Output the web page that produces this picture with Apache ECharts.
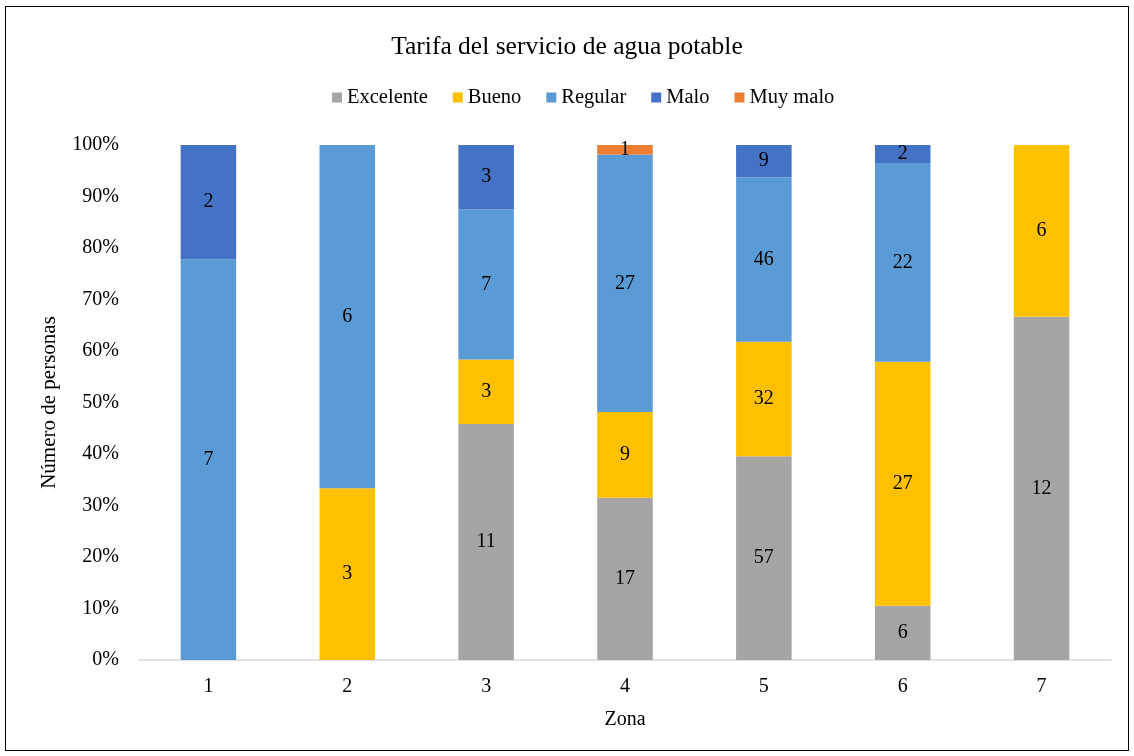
<!DOCTYPE html>
<html><head><meta charset="utf-8">
<script src="https://cdn.jsdelivr.net/npm/echarts@6/dist/echarts.min.js"></script>
<style>html,body{margin:0;padding:0;background:#fff}#c{width:1134px;height:756px}
#frame{position:absolute;left:5px;top:6px;width:1124px;height:745px;border:1.5px solid #000;pointer-events:none;box-sizing:border-box}</style>
</head><body><div id="c"></div><div id="frame"></div>
<script>
const zones = ['1','2','3','4','5','6','7'];
const excelente = [0, 0, 11, 17, 57, 6, 12];
const bueno     = [0, 3, 3, 9, 32, 27, 6];
const regular   = [7, 6, 7, 27, 46, 22, 0];
const malo      = [2, 0, 3, 0, 9, 2, 0];
const muyMalo   = [0, 0, 0, 1, 0, 0, 0];
const seriesNames = ['Excelente','Bueno','Regular','Malo','Muy malo'];
const colors = ['#A5A5A5','#FFC000','#5B9BD5','#4472C4','#ED7D31'];
const raw = [excelente, bueno, regular, malo, muyMalo];
const totals = zones.map((_, i) => raw.reduce((s, a) => s + a[i], 0));
const font = 'Liberation Serif, Times New Roman, serif';

const chart = echarts.init(document.getElementById('c'));
chart.setOption({
  animation: false,
  title: { text: 'Tarifa del servicio de agua potable', left: 'center', top: 29,
    textStyle: { fontFamily: font, fontSize: 25.5, fontWeight: 'normal', color: '#000' } },
  legend: { top: 82, left: 327, itemWidth: 10, itemHeight: 10, itemGap: 25,
    icon: 'rect', textStyle: { fontFamily: font, fontSize: 20.5, color: '#000' }, data: seriesNames },
  grid: { left: 139, right: 23, top: 145, bottom: 96 },
  xAxis: { type: 'category', data: zones, name: 'Zona', nameLocation: 'middle', nameGap: 50,
    nameTextStyle: { fontFamily: font, fontSize: 20, color: '#000' },
    axisLine: { lineStyle: { color: '#D9D9D9', width: 1.5 } }, axisTick: { show: false },
    axisLabel: { fontFamily: font, fontSize: 20, color: '#000', margin: 17 } },
  yAxis: { type: 'value', min: 0, max: 100, interval: 10, name: 'Número de personas',
    nameLocation: 'middle', nameGap: 79, nameRotate: 90,
    nameTextStyle: { fontFamily: font, fontSize: 21, color: '#000' },
    splitLine: { show: false }, axisLine: { show: false }, axisTick: { show: false },
    axisLabel: { fontFamily: font, fontSize: 20, color: '#000', formatter: '{value}%', margin: 20 } },
  series: raw.map((arr, k) => ({
    name: seriesNames[k], type: 'bar', stack: 'all', barWidth: '40%',
    itemStyle: { color: colors[k] },
    label: { show: true, position: 'inside', fontFamily: font, fontSize: 20, color: '#000',
      formatter: p => arr[p.dataIndex] },
    data: arr.map((v, i) => v === 0 ? null : v / totals[i] * 100)
  }))
});
</script></body></html>
